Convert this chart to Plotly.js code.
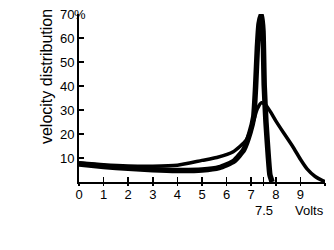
<!DOCTYPE html>
<html>
<head>
<meta charset="utf-8">
<script src="https://cdn.plot.ly/plotly-3.0.1.min.js"></script>
<style>html,body{margin:0;padding:0;background:#fff;}#chart{width:334px;height:250px;}</style>
</head>
<body>
<div id="chart"></div>
<script>
// Narrow (thick) distribution
const narrowX = [0, 1, 2, 3, 4, 5, 5.7, 6.3, 6.7, 6.95, 7.1, 7.18, 7.25, 7.32, 7.42, 7.48, 7.53, 7.6, 7.7, 7.76, 7.85];
const narrowY = [7.5, 6.5, 5.7, 5.1, 4.8, 5, 6, 8.7, 13.5, 20.5, 27, 40, 56, 66, 70, 63, 40, 25, 10, 3, 0];
// Broad (thin) distribution
const broadX = [0, 1, 2, 3, 4, 5, 5.6, 6.27, 6.8, 7.08, 7.25, 7.42, 7.6, 7.8, 8.0, 8.35, 8.7, 9.0, 9.27, 9.6, 9.9, 10];
const broadY = [8, 7.2, 6.7, 6.6, 7, 9, 10.2, 12.6, 17.5, 25, 30.5, 33, 32, 29, 25.5, 20, 14.6, 9.5, 5.5, 2.3, 0.6, 0.2];
// Axis ticks
const xTickVals = [0, 1, 2, 3, 4, 5, 6, 7, 8, 9, 10, 7.5];
const xTickText = ['0', '1', '2', '3', '4', '5', '6', '7', '8', '9', '', ''];
const yTickVals = [10, 20, 30, 40, 50, 60, 70];
const yTickText = ['10', '20', '30', '40', '50', '60', '70'];
const yTitle = 'velocity distribution';
const xUnit = 'Volts';
const extraLabel = '7.5';

const font = {family: 'Liberation Sans, Arial, sans-serif', size: 13, color: '#000'};

const traces = [
  {x: broadX, y: broadY, mode: 'lines', line: {color: '#000', width: 3.5, shape: 'spline', smoothing: 0.6}, hoverinfo: 'skip'},
  {x: narrowX, y: narrowY, mode: 'lines', line: {color: '#000', width: 5.5, shape: 'spline', smoothing: 0.5}, hoverinfo: 'skip'},
  {x: [0], y: [null], xaxis: 'x2', mode: 'lines', hoverinfo: 'skip'}
];

const layout = {
  width: 334, height: 250,
  margin: {l: 79, r: 9, t: 14, b: 68},
  paper_bgcolor: '#fff', plot_bgcolor: '#fff',
  showlegend: false,
  font: font,
  xaxis: {
    range: [0, 10], showgrid: false, zeroline: false,
    showline: true, linecolor: '#000', linewidth: 1.5,
    tickmode: 'array', tickvals: xTickVals, ticktext: xTickText,
    ticks: 'inside', ticklen: 5, tickwidth: 1.5, tickcolor: '#000',
    tickfont: font, fixedrange: true
  },
  xaxis2: {
    range: [0, 10], overlaying: 'x', anchor: 'y', side: 'bottom',
    showgrid: false, zeroline: false, showline: false,
    tickmode: 'array', tickvals: xTickVals,
    ticks: 'outside', ticklen: 3, tickwidth: 1.5, tickcolor: '#000',
    showticklabels: false
  },
  yaxis: {
    range: [0, 70], showgrid: false, zeroline: false,
    showline: true, linecolor: '#000', linewidth: 2,
    tickmode: 'array', tickvals: yTickVals, ticktext: yTickText,
    ticks: 'inside', ticklen: 5, tickwidth: 1.5, tickcolor: '#000',
    tickfont: font, fixedrange: true
  },
  annotations: [
    {text: yTitle, xref: 'paper', yref: 'paper', x: -0.134, y: 0.625, xanchor: 'center', yanchor: 'middle', textangle: -90,
     showarrow: false, font: {family: font.family, size: 16, color: '#000'}},
    {text: '%', xref: 'paper', yref: 'paper', x: 0.006, y: 1, xanchor: 'center', yanchor: 'middle', showarrow: false, font: font},
    {text: extraLabel, xref: 'paper', yref: 'paper', x: 0.75, y: -0.1726, xanchor: 'center', yanchor: 'middle', showarrow: false, font: font},
    {text: xUnit, xref: 'paper', yref: 'paper', x: 0.939, y: -0.1726, xanchor: 'center', yanchor: 'middle', showarrow: false, font: font}
  ]
};

Plotly.newPlot('chart', traces, layout, {staticPlot: true, displayModeBar: false});
</script>
</body>
</html>
